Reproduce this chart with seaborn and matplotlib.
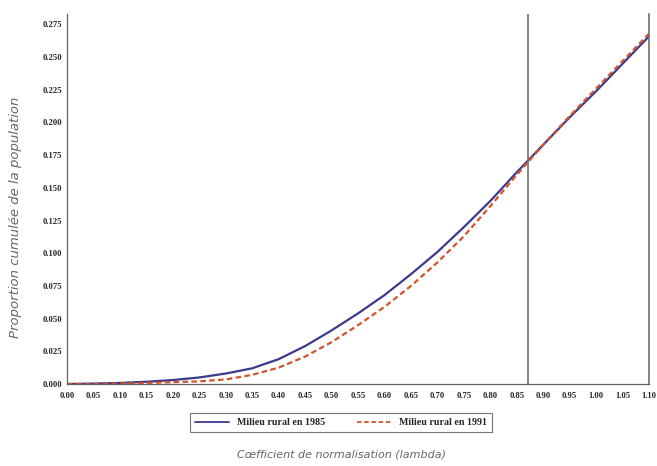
import numpy as np
import pandas as pd
import matplotlib
matplotlib.use('Agg')
import matplotlib.pyplot as plt
import seaborn as sns
from matplotlib.lines import Line2D

# lambda values (x axis)
lambdas = [0.00, 0.05, 0.10, 0.15, 0.20, 0.25, 0.30, 0.35, 0.40, 0.45, 0.50,
           0.55, 0.60, 0.65, 0.70, 0.75, 0.80, 0.85, 0.90, 0.95, 1.00, 1.05, 1.10]
# cumulated share of the population, rural 1985
rural_1985 = [0.000, 0.0003, 0.0008, 0.0017, 0.003, 0.005, 0.008, 0.012, 0.019, 0.029, 0.041,
              0.054, 0.068, 0.084, 0.101, 0.120, 0.140, 0.162, 0.183, 0.204, 0.224, 0.245, 0.266]
# rural 1991
rural_1991 = [0.000, 0.000, 0.0003, 0.0008, 0.0014, 0.002, 0.0035, 0.007, 0.0125, 0.021, 0.032,
              0.045, 0.059, 0.075, 0.093, 0.113, 0.136, 0.160, 0.183, 0.205, 0.226, 0.247, 0.268]
series_names = ['Milieu rural en 1985', 'Milieu rural en 1991']
lambda_cut = 0.872

x_ticks = [round(0.05 * i, 2) for i in range(23)]
y_ticks = [round(0.025 * i, 3) for i in range(12)]

df = pd.DataFrame({
    'lambda': lambdas * 2,
    'prop': rural_1985 + rural_1991,
    'serie': [series_names[0]] * len(lambdas) + [series_names[1]] * len(lambdas),
})

sns.set_style('white')
plt.rcParams['font.family'] = ['DejaVu Sans']

col_85 = '#3c3a8c'
col_91 = '#d4532b'

fig = plt.figure(figsize=(6.57, 4.66), dpi=100)
ax = fig.add_axes([0.102, 0.176, 0.886, 0.794])

sns.lineplot(data=df, x='lambda', y='prop', hue='serie', style='serie',
             palette={series_names[0]: col_85, series_names[1]: col_91},
             dashes={series_names[0]: '', series_names[1]: (2.5, 1.5)},
             linewidth=1.6, ax=ax, legend=False)

# vertical marker
ax.axvline(lambda_cut, color='#707070', lw=1.2)

ax.set_xlim(0, 1.10)
ax.set_ylim(0, 0.283)
ax.set_xticks(x_ticks)
ax.set_xticklabels(['%.2f' % t for t in x_ticks], family='Liberation Serif',
                   fontweight='bold', fontsize=6.2)
ax.set_yticks(y_ticks)
ax.set_yticklabels(['%.3f' % t for t in y_ticks], family='Liberation Serif',
                   fontweight='bold', fontsize=6.2)
ax.tick_params(axis='both', length=2, width=0.6, pad=1.5, color='#555555', direction='out')
ax.tick_params(axis='x', pad=4)

ax.spines['top'].set_visible(False)
for s in ['left', 'bottom']:
    ax.spines[s].set_color('#606060')
    ax.spines[s].set_linewidth(0.9)
ax.spines['right'].set_color('#707070')
ax.spines['right'].set_linewidth(1.2)

ax.set_xlabel('')
ax.set_ylabel('Proportion cumulée de la population', style='italic',
              color='#666666', fontsize=9.5)
ax.yaxis.set_label_coords(-0.077, 0.45)
fig.text(0.52, 0.024, 'Cœfficient de normalisation (lambda)', style='italic',
         color='#666666', fontsize=8, ha='center', va='center')

handles = [Line2D([], [], color=col_85, lw=1.3),
           Line2D([], [], color=col_91, lw=1.3, dashes=(2.5, 1.5))]
leg = fig.legend(handles, series_names, loc='center', bbox_to_anchor=(0.519, 0.093),
                 ncol=2, frameon=True, fancybox=False, edgecolor='#555555',
                 prop={'family': 'Liberation Serif', 'weight': 'bold', 'size': 7.2},
                 handlelength=3.4, columnspacing=3.2, borderpad=0.5)
leg.get_frame().set_linewidth(0.8)

fig.savefig('out.png', dpi=100)
